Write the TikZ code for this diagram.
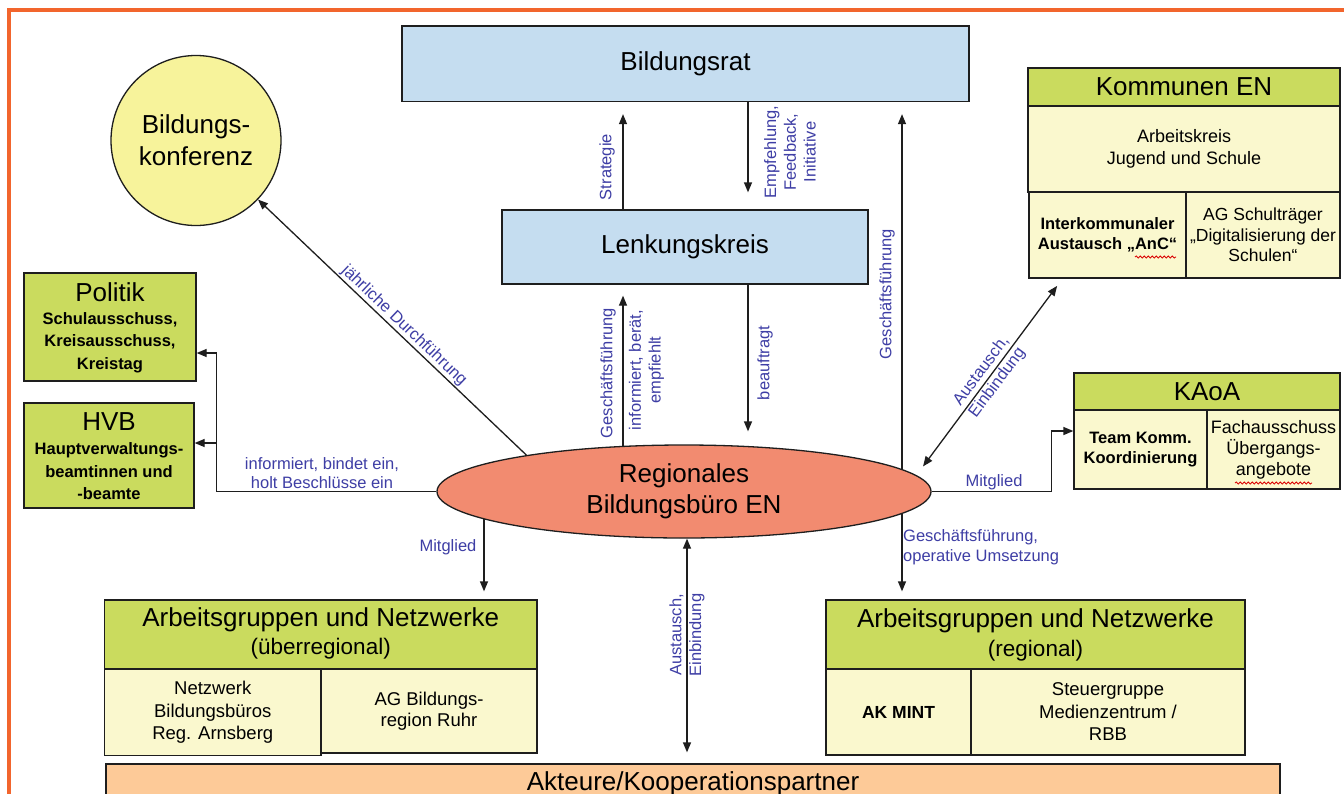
\documentclass[tikz,border=0pt]{standalone}
\usepackage{fontspec}
\setmainfont{Liberation Sans}
\usetikzlibrary{arrows.meta,shapes.geometric,backgrounds,decorations.pathmorphing}
\definecolor{cOrange}{RGB}{242,101,45}
\definecolor{cLblue}{RGB}{197,221,240}
\definecolor{cYellow}{RGB}{247,243,155}
\definecolor{cGreen}{RGB}{202,219,94}
\definecolor{cCell}{RGB}{250,248,206}
\definecolor{cSalmon}{RGB}{242,139,112}
\definecolor{cAkt}{RGB}{253,202,152}
\definecolor{cLab}{RGB}{62,62,165}
\definecolor{cLine}{RGB}{30,30,30}
\newcommand{\ttlfont}{\fontsize{26}{31}\selectfont}
\begin{document}
\begin{tikzpicture}[x=1pt,y=-1pt,
  box/.style={draw=cLine, line width=1.3pt, rectangle, inner sep=0pt, align=center},
  lbluebox/.style={box, fill=cLblue, font=\ttlfont},
  ghead/.style={box, fill=cGreen},
  cellbox/.style={box, fill=cCell, font=\fontsize{18}{22}\selectfont},
  bcell/.style={box, fill=cCell, font=\bfseries\fontsize{16.5}{20.5}\selectfont},
  ttl/.style={font=\ttlfont, inner sep=0pt, align=center},
  subttl/.style={font=\fontsize{22.5}{27}\selectfont, inner sep=0pt},
  btxt/.style={font=\bfseries\fontsize{16.5}{22.5}\selectfont, align=center, inner sep=0pt},
  lab/.style={font=\fontsize{16.5}{19.8}\selectfont, text=cLab, align=center, inner sep=1pt},
  conn/.style={draw=cLine, line width=1.3pt},
  arr/.style={conn, -{Triangle[length=10pt,width=8pt]}},
  arrtwo/.style={conn, {Triangle[length=10pt,width=8pt]}-{Triangle[length=10pt,width=8pt]}},
  squiggle/.style={draw=red!85!black, line width=0.8pt, decorate, decoration={snake, amplitude=1.1pt, segment length=4pt}}
]
\path[use as bounding box] (0,0) rectangle (1344,793);

% top
\node[lbluebox, minimum width=567pt, minimum height=75.5pt] (br) at (685.5,63.75) {Bildungsrat};
\node[lbluebox, minimum width=366pt, minimum height=74pt] (lk) at (685,247) {Lenkungskreis};
\node[circle, draw=cLine, line width=1.3pt, fill=cYellow, minimum size=170pt, inner sep=0pt,
      align=center, font=\fontsize{26}{32}\selectfont] (bk) at (196,140.5) {Bildungs-\\konferenz};

% left boxes
\node[ghead, minimum width=172pt, minimum height=108pt] (pol) at (110,327) {};
\node[ttl] (polT) at (110,292) {Politik};
\node[btxt] (polS) at (110,342.5) {Schulausschuss,\\Kreisausschuss,\\Kreistag};
\node[ghead, minimum width=170pt, minimum height=105pt] (hvb) at (109,455.5) {};
\node[ttl] (hvbT) at (109,422) {HVB};
\node[btxt] (hvbS) at (109,471.5) {Hauptverwaltungs-\\beamtinnen und\\-beamte};

% centre ellipse
\node[ellipse, draw=cLine, line width=1.3pt, fill=cSalmon, minimum width=494pt, minimum height=93pt,
      inner sep=0pt, align=center, font=\fontsize{26}{31}\selectfont] (ell) at (684,491.5) {Regionales\\Bildungsbüro EN};

% Kommunen EN
\node[ghead, minimum width=312pt, minimum height=38pt, font=\ttlfont] (komH) at (1184,87) {Kommunen EN};
\node[cellbox, minimum width=312pt, minimum height=86pt] (komA) at (1184,149) {Arbeitskreis\\Jugend und Schule};
\node[bcell, minimum width=157pt, minimum height=86pt] (komL) at (1107.5,235) {Interkommunaler\\Austausch „AnC“};
\node[cellbox, minimum width=154pt, minimum height=86pt, font=\fontsize{17.5}{20.5}\selectfont] (komR) at (1263,235) {AG Schulträger\\„Digitalisierung der\\Schulen“};

% KAoA
\node[ghead, minimum width=266pt, minimum height=37pt, font=\ttlfont] (kaoaH) at (1207,391.5) {KAoA};
\node[bcell, minimum width=133pt, minimum height=79pt] (kaoaL) at (1140.5,449.5) {Team Komm.\\Koordinierung};
\node[cellbox, minimum width=133pt, minimum height=79pt, font=\fontsize{18}{21}\selectfont] (kaoaR) at (1273.5,449.5) {Fachausschuss\\Übergangs-\\angebote};

% Arbeitsgruppen ueberregional
\node[ghead, minimum width=432.5pt, minimum height=69pt] (aguH) at (320.75,634.5) {};
\node[ttl] (aguT) at (320.75,620) {Arbeitsgruppen und Netzwerke};
\node[subttl] (aguS) at (320.75,649) {(überregional)};
\node[cellbox, minimum width=216.5pt, minimum height=86.5pt, font=\fontsize{18.5}{22.5}\selectfont] (aguL) at (212.75,712.25) {Netzwerk\\Bildungsbüros\\Reg. Arnsberg};
\node[cellbox, minimum width=216pt, minimum height=84pt, font=\fontsize{18.5}{21.5}\selectfont] (aguR) at (429,711) {AG Bildungs-\\region Ruhr};

% Arbeitsgruppen regional
\node[ghead, minimum width=419pt, minimum height=69pt] (agrH) at (1035.5,634.5) {};
\node[ttl] (agrT) at (1035.5,621) {Arbeitsgruppen und Netzwerke};
\node[subttl] (agrS) at (1035.5,651) {(regional)};
\node[bcell, minimum width=145pt, minimum height=86pt, font=\bfseries\fontsize{17.5}{21}\selectfont] (agrL) at (898.5,712) {AK MINT};
\node[cellbox, minimum width=274pt, minimum height=86pt, font=\fontsize{18.5}{22.5}\selectfont] (agrR) at (1108,712) {Steuergruppe\\Medienzentrum /\\RBB};

% Akteure
\node[box, fill=cAkt, minimum width=1174pt, minimum height=56pt] (akt) at (693,792) {};
\node[ttl, anchor=base] (aktT) at (693,790) {Akteure/Kooperationspartner};

% helper coordinates
\coordinate (xS) at ([xshift=-61pt]ell.center);
\coordinate (xB) at ([xshift=64pt]ell.center);
\coordinate (xR) at ([xshift=218pt]ell.center);
\coordinate (xM) at ([xshift=-200pt]ell.center);
\coordinate (xA) at ([xshift=3pt]ell.center);
\coordinate (jL) at ([xshift=-220pt]ell.west);
\coordinate (jR) at ([xshift=120pt]ell.east);

\begin{scope}[on background layer]
  \fill[white] (0,0) rectangle (1344,793);
  \draw[cOrange, line width=3.5pt] (1344,10) -- (9,10) -- (9,800);
  \draw[arr, shorten >=12pt] (xS |- lk.north) -- (xS |- br.south);
  \draw[arr, shorten >=17pt] (xB |- br.south) -- (xB |- lk.north);
  \draw[arr, shorten >=11pt] (xS) -- (xS |- lk.south);
  \draw[arr, shorten >=13pt] (xB |- lk.south) -- (xB |- ell.north);
  \draw[arr, shorten >=12pt] (xR) -- (xR |- br.south);
  \draw[arr, shorten >=8pt] (xR) -- (xR |- agrH.north);
  \draw[arr, shorten >=8pt] (xM) -- (xM |- aguH.north);
  \draw[arrtwo, shorten >=11pt] (xA |- ell.south) -- (xA |- akt.north);
  \draw[arr] (ell.167) -- (bk) node[lab, sloped, above, pos=0.48] (lJahr) {jährliche Durchführung};
  \draw[arr] (ell.west) -- (jL) |- ([yshift=-26pt]pol.east);
  \draw[arr] (jL) |- ([yshift=12.5pt]hvb.east);
  \draw[arr] (ell.east) -- (jR) |- ([yshift=18.5pt]kaoaL.west);
  \draw[arrtwo, shorten <=11pt, shorten >=9pt] (ell.4.4) -- ([xshift=-45pt]komL.south)
     node[lab, sloped, pos=0.5] (lAusK) {Austausch,\\Einbindung};
\end{scope}

% labels
\node[lab, rotate=90] (lStr) at (607,167) {Strategie};
\node[lab, rotate=90] (lEmp) at (790,152) {Empfehlung,\\Feedback,\\Initiative};
\node[lab, rotate=90] (lGf1) at (608,373) {Geschäftsführung};
\node[lab, rotate=90] (lInf) at (646.5,370) {informiert, berät,\\empfiehlt};
\node[lab, rotate=90] (lBea) at (765,363) {beauftragt};
\node[lab, rotate=90] (lGf2) at (887,294) {Geschäftsführung};
\node[lab] (lPol) at (322,473) {informiert, bindet ein,\\holt Beschlüsse ein};
\node[lab] (lMit1) at (448,547) {Mitglied};
\node[lab, rotate=90] (lAusB) at (687,635) {Austausch,\\Einbindung};
\node[lab] (lMit2) at (994,482) {Mitglied};
\node[lab, align=left, anchor=west] (lGf3) at (902,547) {Geschäftsführung,\\operative Umsetzung};

% spell-check marks
\draw[squiggle] (1135,257) -- (1176,257);
\draw[squiggle] (1235,483) -- (1312,483);
\end{tikzpicture}
\end{document}
